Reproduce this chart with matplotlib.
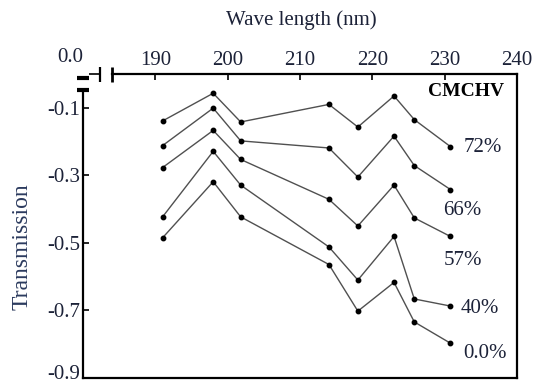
import matplotlib
matplotlib.use("Agg")
import matplotlib.pyplot as plt
import matplotlib.transforms as mtransforms

plt.rcParams["font.family"] = ["Liberation Serif", "DejaVu Serif"]

# Transmission spectra of CMCHV films at several concentrations
wavelength = [191, 198, 201.8, 214, 218, 223, 225.8, 230.8]
t_72 = [-0.139, -0.057, -0.142, -0.090, -0.157, -0.065, -0.135, -0.215]
t_66 = [-0.212, -0.101, -0.198, -0.219, -0.305, -0.184, -0.271, -0.342]
t_57 = [-0.277, -0.167, -0.253, -0.371, -0.450, -0.329, -0.426, -0.481]
t_40 = [-0.423, -0.229, -0.329, -0.512, -0.610, -0.481, -0.666, -0.687]
t_00 = [-0.485, -0.319, -0.423, -0.564, -0.702, -0.617, -0.734, -0.797]
series = [t_72, t_66, t_57, t_40, t_00]
series_labels = ["72%", "66%", "57%", "40%", "0.0%"]

x_ticks = [190, 200, 210, 220, 230, 240]
y_ticks = [-0.1, -0.3, -0.5, -0.7, -0.9]

TXT = "#1c2238"
LBL = "#2b3a5e"

fig = plt.figure(figsize=(5.39, 3.85), dpi=100)
ax = fig.add_axes([83 / 539, 1 - 378 / 385, 434 / 539, 304 / 385])

for ys in series:
    ax.plot(wavelength, ys, color="#505050", lw=1.0, zorder=2)
    ax.plot(wavelength, ys, ls="none", marker="o", ms=3.2, color="black", zorder=3)

ax.set_xlim(180, 240)
ax.set_ylim(-0.9, 0.0)

# x axis on top
ax.xaxis.tick_top()
ax.set_xticks(x_ticks)
ax.set_xticklabels([str(v) for v in x_ticks])
ax.set_yticks(y_ticks)
ax.set_yticklabels([f"{v:.1f}" for v in y_ticks])
ax.tick_params(axis="x", direction="in", length=4, width=1.2, pad=3,
               labelsize=15, labelcolor=TXT, top=True, bottom=False)
ax.tick_params(axis="y", direction="in", length=4, width=1.2, pad=2,
               labelsize=15, labelcolor=TXT)

# lift the bottom y label so it stays inside the figure
bottom_lbl = ax.get_yticklabels()[-1]
bottom_lbl.set_transform(bottom_lbl.get_transform() +
                         mtransforms.ScaledTranslation(0, 6 / 100, fig.dpi_scale_trans))

for s in ax.spines.values():
    s.set_linewidth(1.6)
    s.set_color("black")

# broken axes near the origin
x_gap_l, x_gap_r = 182.35, 184.0
y_gap = -0.047
ax.spines["top"].set_bounds(x_gap_r, 240)
ax.spines["left"].set_bounds(-0.9, y_gap)
kw = dict(color="black", clip_on=False, solid_capstyle="butt", zorder=5)
ax.plot([180.8, x_gap_l], [0.0, 0.0], lw=1.2, **kw)
ax.plot([x_gap_l, x_gap_l], [0.021, -0.024], lw=1.6, **kw)
ax.plot([x_gap_r, x_gap_r], [0.021, -0.024], lw=2.0, **kw)
ax.plot([179.2, 180.85], [-0.012, -0.012], lw=3.0, **kw)
ax.plot([179.2, 180.85], [y_gap, y_gap], lw=3.0, **kw)

fig.text(70 / 539, 1 - 57 / 385, "0.0", ha="center", va="center",
         fontsize=15, color=TXT)

fig.text(301 / 539, 1 - 20 / 385, "Wave length (nm)", ha="center", va="center",
         fontsize=15, color=TXT)
fig.text(22 / 539, 1 - 247 / 385, "Transmission", ha="center", va="center",
         rotation=90, fontsize=17, color=LBL)

ax.text(233.0, -0.053, "CMCHV", ha="center", va="center", fontsize=14,
        fontweight="bold", color="black")
label_pos = [(235.3, -0.219), (232.5, -0.403), (232.5, -0.551),
             (234.9, -0.693), (235.6, -0.826)]
for (lx, ly), text in zip(label_pos, series_labels):
    ax.text(lx, ly, text, ha="center", va="center", fontsize=15, color=TXT)

fig.savefig("out.png", dpi=100)
